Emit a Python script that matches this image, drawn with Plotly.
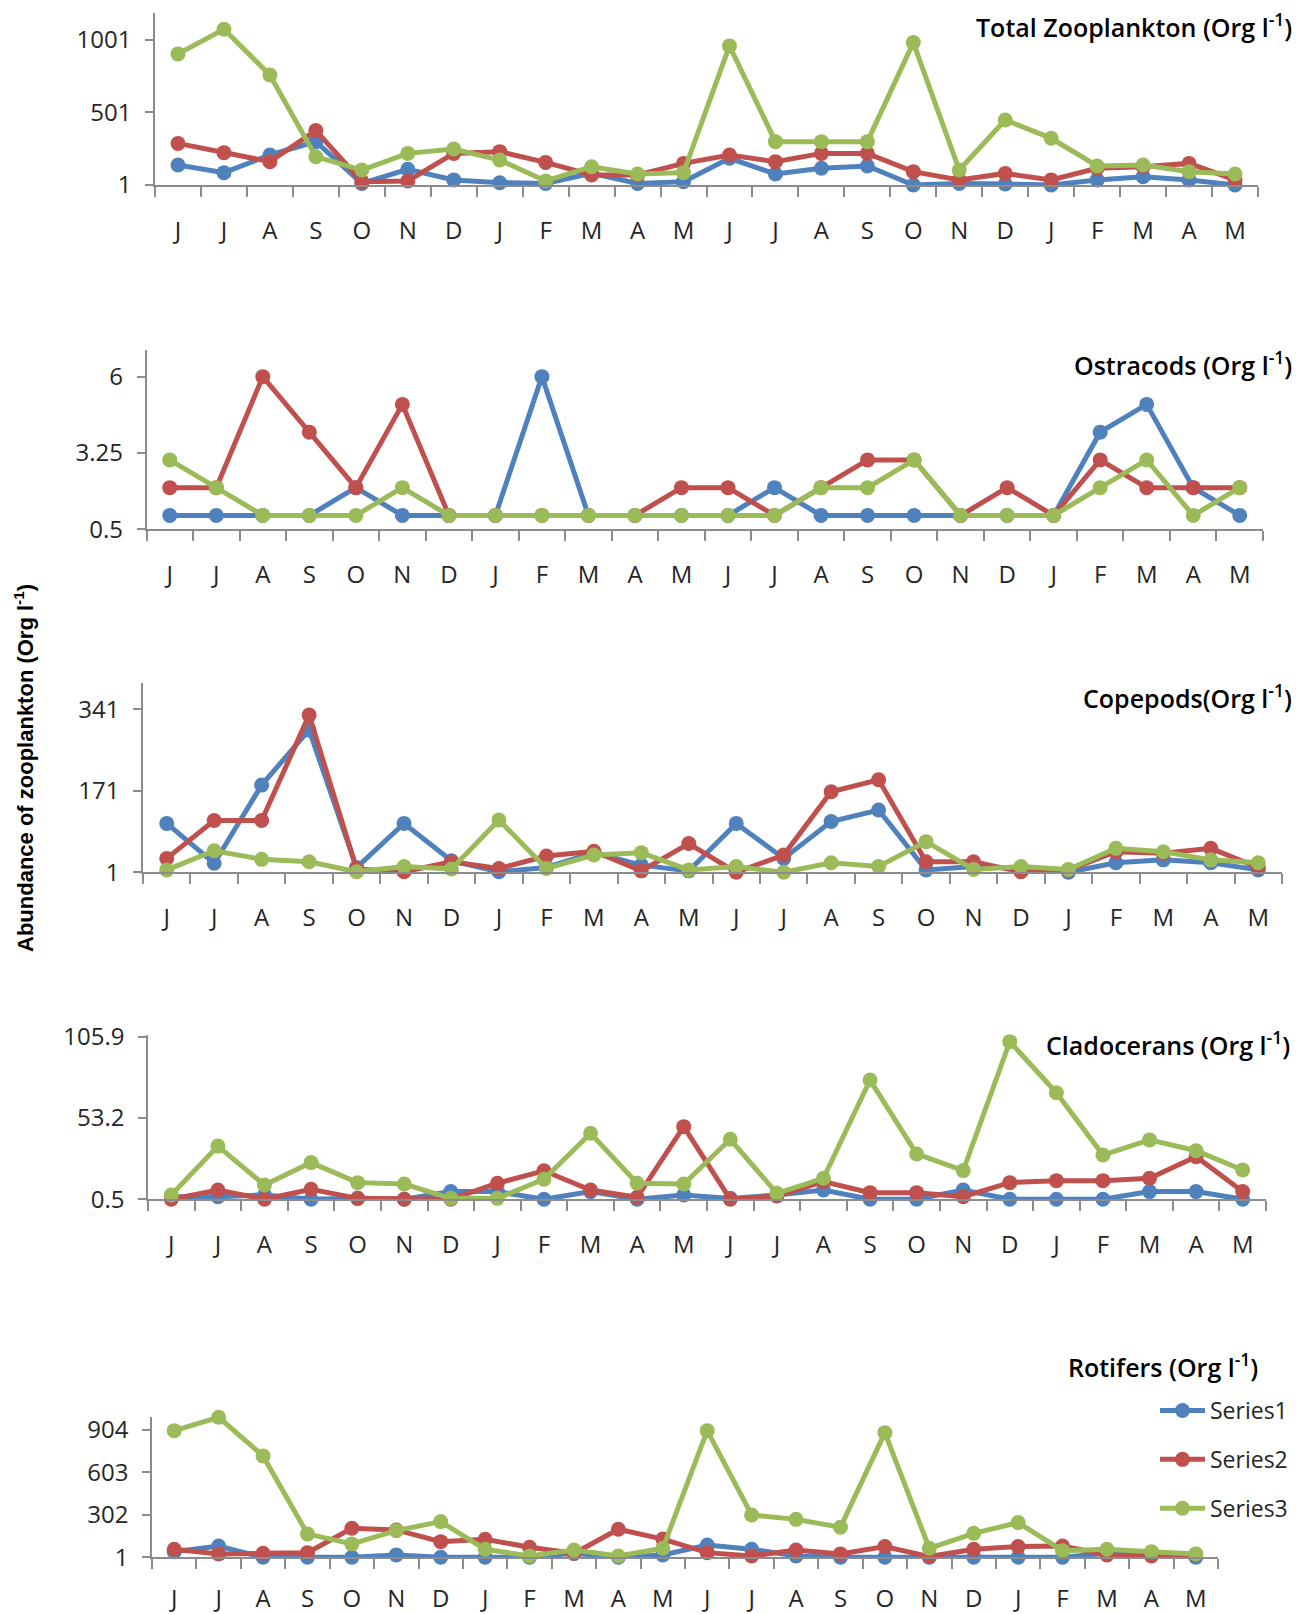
import plotly.graph_objects as go

PAGE_W, PAGE_H = 1309, 1614
OFF = 8  # default page body margin
W, H = PAGE_W - OFF, PAGE_H - OFF

months = ["J", "J", "A", "S", "O", "N", "D", "J", "F", "M", "A", "M",
          "J", "J", "A", "S", "O", "N", "D", "J", "F", "M", "A", "M"]
series_names = ["Series1", "Series2", "Series3"]

total_s1 = [139, 86, 208, 300, 12, 109, 36, 17, 12, 81, 12, 24, 185, 77, 116, 132, 1, 12, 8, 1, 36, 58, 36, 1]
total_s2 = [288, 224, 162, 376, 24, 29, 219, 231, 157, 70, 70, 150, 208, 162, 219, 219, 93, 36, 81, 36, 116, 127, 150, 36]
total_s3 = [905, 1075, 760, 196, 104, 219, 249, 173, 29, 127, 77, 86, 960, 300, 300, 300, 983, 104, 449, 323, 132, 139, 93, 77]

ostra_s1 = [1, 1, 1, 1, 2, 1, 1, 1, 6, 1, 1, 1, 1, 2, 1, 1, 1, 1, 1, 1, 4, 5, 2, 1]
ostra_s2 = [2, 2, 6, 4, 2, 5, 1, 1, 1, 1, 1, 2, 2, 1, 2, 3, 3, 1, 2, 1, 3, 2, 2, 2]
ostra_s3 = [3, 2, 1, 1, 1, 2, 1, 1, 1, 1, 1, 1, 1, 1, 2, 2, 3, 1, 1, 1, 2, 3, 1, 2]

cope_s1 = [103, 20, 183, 298, 11, 103, 25, 2, 11, 42, 16, 4, 103, 30, 107, 131, 6, 13, 9, 1, 21, 27, 21, 6]
cope_s2 = [30, 109, 109, 329, 8, 2, 23, 9, 35, 45, 4, 61, 1, 37, 169, 194, 23, 23, 2, 6, 44, 41, 51, 11]
cope_s3 = [6, 46, 28, 23, 2, 13, 8, 110, 9, 37, 42, 6, 13, 1, 21, 13, 65, 7, 13, 7, 51, 44, 27, 21]

clado_s1 = [2.2, 2.2, 3.3, 0.5, 1.1, 0.5, 5.5, 5.5, 0.5, 5.5, 0.5, 3.3, 1.1, 3.3, 6.5, 0.5, 0.5, 6.5, 0.5, 0.5, 0.5, 5.5, 5.5, 0.5]
clado_s2 = [0.5, 6.5, 0.5, 7, 1.1, 0.5, 0.5, 10.9, 19, 6.5, 1.8, 47.6, 0.5, 2.7, 12, 4.8, 4.8, 2.2, 11.3, 12.6, 12.6, 14.1, 28.1, 5.5]
clado_s3 = [3.3, 35, 9.8, 24.3, 11.3, 10.4, 1.1, 1.1, 13.5, 43.3, 10.9, 10.4, 39.4, 4.4, 14.1, 77.8, 29.9, 19.1, 102.7, 69.6, 29.2, 39, 32, 19.5]

roti_s1 = [41, 81, 1, 1, 1, 18, 1, 1, 1, 29, 1, 18, 88, 58, 10, 1, 1, 1, 1, 1, 1, 29, 29, 1]
roti_s2 = [58, 25, 29, 34, 207, 195, 112, 129, 72, 29, 200, 130, 34, 10, 53, 25, 77, 6, 58, 77, 81, 18, 10, 22]
roti_s3 = [899, 994, 720, 167, 96, 190, 254, 58, 10, 53, 10, 65, 899, 301, 270, 214, 885, 65, 171, 247, 48, 58, 41, 25]

titles = ["Total Zooplankton (Org l<sup>-1</sup>)", "Ostracods (Org l<sup>-1</sup>)",
          "Copepods(Org l<sup>-1</sup>)", "Cladocerans (Org l<sup>-1</sup>)", "Rotifers (Org l<sup>-1</sup>)"]
y_tickvals = [[1, 501, 1001], [0.5, 3.25, 6], [1, 171, 341], [0.5, 53.2, 105.9], [1, 302, 603, 904]]
y_ticktext = [["1", "501", "1001"], ["0.5", "3.25", "6"], ["1", "171", "341"], ["0.5", "53.2", "105.9"], ["1", "302", "603", "904"]]
y_ranges = [[1, 1187], [0.5, 6.96], [1, 396], [0.5, 107], [1, 998]]
panel_data = [(total_s1, total_s2, total_s3), (ostra_s1, ostra_s2, ostra_s3),
              (cope_s1, cope_s2, cope_s3), (clado_s1, clado_s2, clado_s3),
              (roti_s1, roti_s2, roti_s3)]

colors = ["#4F81BD", "#C0504D", "#9BBB59"]

# layout geometry in page pixels: left, right, bottom, top, title right edge, title y, x-label standoff
geom = [
    (155, 1258, 185, 13, 1294, 25, 23),
    (146.5, 1263, 529.3, 350, 1294, 363, 23),
    (143, 1282, 872.3, 683, 1294, 697, 23),
    (148, 1266, 1199.3, 1035, 1292, 1043, 23),
    (152, 1218, 1557.3, 1416.7, 1260, 1365, 19),
]


def px(x):
    return (x - OFF) / W


def py(y):
    return 1 - (y - OFF) / H


x_idx = list(range(len(months)))
fig = go.Figure()
annotations = []
tick_font = dict(family="Open Sans", size=24, color="#262626")
axis_col = "#8C8C8C"

for p in range(5):
    left, right, bottom, top, tx, ty, stand = geom[p]
    ax = "" if p == 0 else str(p + 1)
    for s in range(3):
        fig.add_trace(go.Scatter(
            x=x_idx, y=panel_data[p][s], mode="lines+markers",
            name=series_names[s], legendgroup=series_names[s],
            showlegend=(p == 4),
            line=dict(color=colors[s], width=5),
            marker=dict(color=colors[s], size=15),
            xaxis="x" + ax, yaxis="y" + ax, cliponaxis=False,
        ))
    fig.layout["xaxis" + ax] = dict(
        domain=[px(left), px(right)], anchor="y" + ax,
        range=[-0.5, len(months) - 0.5], automargin=False,
        tickmode="array", tickvals=x_idx, ticktext=months,
        ticks="", ticklabelstandoff=stand,
        minor=dict(tick0=-0.5, dtick=1, ticks="outside", ticklen=10, tickcolor=axis_col, tickwidth=1.5),
        showline=True, linecolor=axis_col, linewidth=1.5,
        showgrid=False, zeroline=False, tickfont=tick_font, fixedrange=True,
    )
    fig.layout["yaxis" + ax] = dict(
        domain=[py(bottom), py(top)], anchor="x" + ax,
        range=y_ranges[p], automargin=False,
        tickmode="array", tickvals=y_tickvals[p], ticktext=y_ticktext[p],
        ticks="outside", ticklen=8, tickcolor=axis_col, tickwidth=1.5, ticklabelstandoff=9,
        showline=True, linecolor=axis_col, linewidth=1.5,
        showgrid=False, zeroline=False, tickfont=tick_font, fixedrange=True,
    )
    annotations.append(dict(
        text=titles[p], x=px(tx), y=py(ty), xref="paper", yref="paper",
        xanchor="right", yanchor="middle", showarrow=False,
        font=dict(family="Open Sans", size=25, weight=600, color="#000000"),
    ))

annotations.append(dict(
    text="<b>Abundance of zooplankton (Org l<sup>-1</sup>)</b>", x=px(24), y=py(768),
    xref="paper", yref="paper", xanchor="center", yanchor="middle", textangle=-90,
    showarrow=False, font=dict(family="Liberation Sans", size=22, color="#000000"),
))

fig.update_layout(
    width=W, height=H, margin=dict(l=0, r=0, t=0, b=0, autoexpand=False),
    paper_bgcolor="white", plot_bgcolor="white",
    annotations=annotations,
    legend=dict(x=px(1155), y=py(1389), xanchor="left", yanchor="top",
                font=dict(family="Open Sans", size=23, color="#262626"),
                tracegroupgap=16, bgcolor="rgba(0,0,0,0)", itemwidth=45),
)

fig.write_html("out.html")
